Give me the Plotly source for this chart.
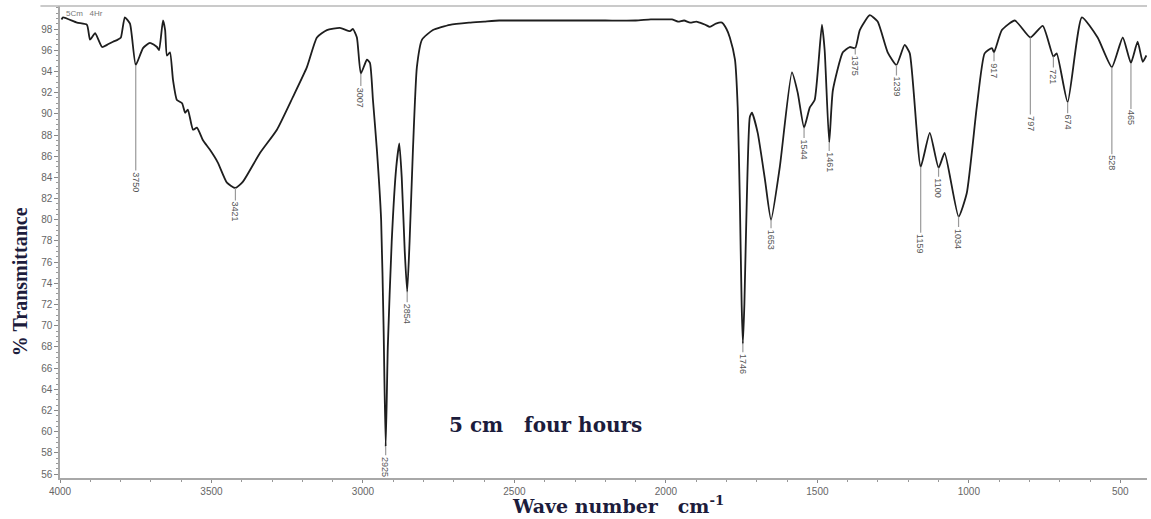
import plotly.graph_objects as go

# Spectrum: wavenumber (cm-1) and % transmittance
wavenumber = [3995, 3990, 3944, 3911, 3901, 3884, 3861, 3845, 3825, 3809, 3799, 3786, 3769, 3750,
              3726, 3703, 3680, 3673, 3660, 3653, 3647, 3637, 3627, 3614, 3597, 3587, 3578, 3561,
              3548, 3528, 3505, 3479, 3449, 3421, 3396, 3340, 3284, 3231, 3185, 3152, 3119, 3076,
              3043, 3033, 3020, 3007, 2987, 2977, 2967, 2954, 2940, 2932, 2925, 2918, 2905, 2890,
              2880, 2872, 2862, 2854, 2846, 2835, 2822, 2805, 2769, 2713, 2650, 2600, 2550, 2500,
              2400, 2300, 2200, 2100, 2050, 2000, 1980, 1960, 1940, 1920, 1900, 1888, 1870, 1855,
              1835, 1815, 1800, 1789, 1772, 1763, 1756, 1750, 1746, 1741, 1733, 1723, 1716, 1697,
              1673, 1653, 1624, 1584, 1565, 1544, 1525, 1509, 1485, 1476, 1461, 1449, 1416, 1393,
              1375, 1360, 1327, 1301, 1268, 1239, 1212, 1195, 1159, 1129, 1100, 1080, 1034, 1007,
              974, 948, 924, 917, 891, 848, 797, 756, 721, 710, 674, 627, 575, 528, 492, 465, 443, 426, 414]
transmittance = [98.9, 99.1, 98.6, 98.4, 97.0, 97.6, 96.3, 96.5, 96.8, 97.0, 97.2, 99.1, 98.5, 94.6,
                 96.2, 96.7, 96.3, 96.0, 98.8, 97.9, 95.5, 95.8, 93.2, 91.3, 91.0, 90.1, 90.4, 88.5,
                 88.7, 87.5, 86.6, 85.4, 83.5, 83.0, 83.6, 86.3, 88.5, 91.6, 94.4, 97.2, 97.9, 98.1,
                 97.8, 98.0, 97.2, 93.8, 95.1, 94.8, 91.3, 86.6, 80.0, 70.0, 58.6, 68.0, 78.0, 85.0,
                 87.2, 84.0, 77.0, 73.2, 78.0, 86.6, 94.4, 97.0, 97.9, 98.4, 98.6, 98.7, 98.8, 98.8,
                 98.8, 98.8, 98.8, 98.8, 98.9, 98.9, 98.9, 98.7, 98.8, 98.6, 98.7, 98.6, 98.4, 98.2,
                 98.5, 98.6, 98.0, 97.2, 95.1, 90.6, 81.9, 72.0, 68.3, 72.0, 81.9, 89.7, 90.1, 88.2,
                 83.8, 80.0, 85.0, 93.9, 92.0, 88.7, 90.6, 91.3, 98.4, 96.0, 87.3, 92.2, 95.8, 96.3,
                 96.2, 97.9, 99.3, 98.7, 95.8, 94.6, 96.5, 95.7, 85.0, 88.2, 84.9, 86.3, 80.3, 82.5,
                 90.6, 95.7, 96.2, 95.8, 97.9, 98.8, 97.2, 98.3, 95.4, 95.7, 91.1, 99.1, 97.2, 94.4,
                 97.2, 94.8, 96.8, 94.9, 95.5]

# Labelled peaks
peak_wn = [3750, 3421, 3007, 2925, 2854, 1746, 1653, 1544, 1461, 1375, 1239, 1159, 1100, 1034,
           917, 797, 721, 674, 528, 465]
peak_labels = [str(p) for p in peak_wn]
peak_t = [94.6, 83.0, 93.8, 58.6, 73.2, 68.3, 80.0, 88.7, 87.3, 96.2, 94.6, 85.0, 84.9, 80.3,
          95.8, 97.2, 95.4, 91.1, 94.4, 94.8]
# leader length (px) from each peak down to its label
leader_px = [117, 24, 24, 20, 22, 20, 20, 22, 20, 18, 22, 77, 20, 22, 18, 86, 20, 20, 96, 55]

y_ticks = list(range(56, 100, 2))
x_ticks = [4000, 3500, 3000, 2500, 2000, 1500, 1000, 500]

title_color = "#1c1c3c"

fig = go.Figure()
fig.add_trace(go.Scatter(x=wavenumber, y=transmittance, mode="lines",
                         line=dict(color="#1e1e1e", width=1.8, shape="spline", smoothing=0.5),
                         hoverinfo="skip", showlegend=False))

for wn, t, lab, L in zip(peak_wn, peak_t, peak_labels, leader_px):
    fig.add_annotation(x=wn, y=t, xref="x", yref="y", text=lab, textangle=90,
                       showarrow=True, arrowhead=0, arrowwidth=1.2, arrowcolor="#9a9a9a",
                       ax=0, ay=L, standoff=0,
                       font=dict(family="Liberation Sans Narrow, Liberation Sans, Arial", size=9,
                                 color="#555555"))

fig.add_annotation(x=2396, y=60.6, xref="x", yref="y", text="<b>5 cm   four hours</b>",
                   showarrow=False,
                   font=dict(family="DejaVu Serif, serif", size=20, color=title_color))
fig.add_annotation(x=0.004, y=0.985, xref="paper", yref="paper", text="5Cm   4Hr",
                   showarrow=False, xanchor="left", yanchor="middle",
                   font=dict(family="Liberation Sans, Arial", size=8, color="#777777"))

# axis titles
fig.add_annotation(x=0.513, y=-0.058, xref="paper", yref="paper",
                   text="<b>Wave number   cm<sup>-1</sup></b>", showarrow=False,
                   xanchor="center", yanchor="middle",
                   font=dict(family="DejaVu Serif, serif", size=19, color=title_color))
fig.add_annotation(x=-0.0368, y=0.417, xref="paper", yref="paper",
                   text="<b>% Transmittance</b>", showarrow=False, textangle=-90,
                   xanchor="center", yanchor="middle",
                   font=dict(family="Liberation Serif, Times New Roman, serif", size=20,
                             color=title_color))

# top frame line
fig.add_shape(type="line", xref="paper", yref="paper", x0=-0.018, x1=1.0, y0=1.0, y1=1.0,
              line=dict(color="#b8b8b8", width=1.5))

fig.update_layout(
    width=1151, height=519,
    margin=dict(l=60, r=4, t=6, b=41),
    paper_bgcolor="white", plot_bgcolor="white",
    xaxis=dict(range=[4000, 412], tickvals=x_ticks, ticktext=[str(v) for v in x_ticks],
               automargin=False,
               showgrid=False, zeroline=False, showline=True, linecolor="#a8a8a8", linewidth=1.5,
               ticks="outside", ticklen=3, tickcolor="#888888",
               tickfont=dict(family="Liberation Sans, Arial", size=10, color="#666666"),
               minor=dict(dtick=100, tick0=0, ticks="outside", ticklen=2, tickcolor="#999999")),
    yaxis=dict(range=[55.64, 100.17], tickvals=y_ticks, ticktext=[str(v) for v in y_ticks],
               automargin=False,
               showgrid=False, zeroline=False, showline=True, linecolor="#a8a8a8", linewidth=1.5,
               ticks="outside", ticklen=4, tickcolor="#888888",
               tickfont=dict(family="Liberation Sans, Arial", size=10, color="#666666"),
               minor=dict(dtick=0.5, tick0=0, ticks="outside", ticklen=2, tickcolor="#999999")),
)

fig.write_html("out.html", config={"displayModeBar": False},
               post_script="document.body.style.margin='0';")
